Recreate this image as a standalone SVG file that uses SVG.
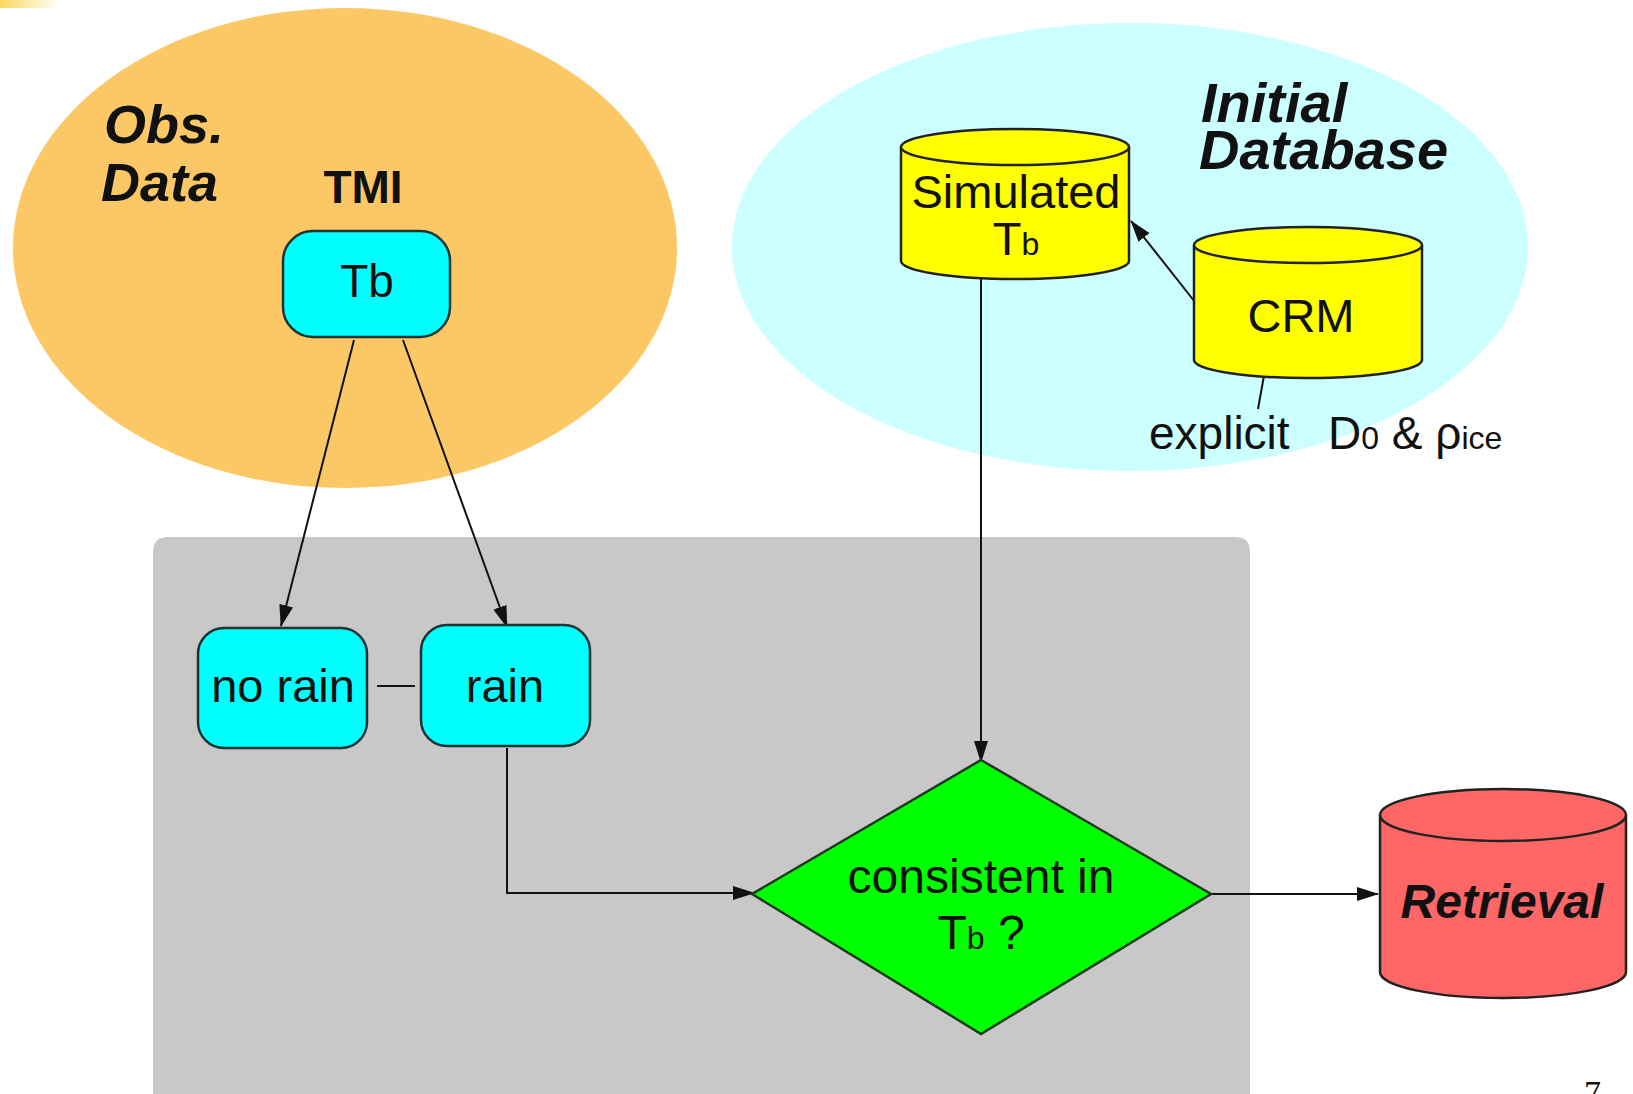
<svg xmlns="http://www.w3.org/2000/svg" width="1633" height="1094" viewBox="0 0 1633 1094">
<style>
.box{fill:#00FFFF;stroke:#1a3333;stroke-width:2.5}
.cyl{stroke:#222;stroke-width:2.5}
.lbl{font-family:"Liberation Sans",Arial,sans-serif;fill:#111}
.bi{font-family:"Liberation Sans",Arial,sans-serif;font-weight:bold;font-style:italic;fill:#111}
.conn{stroke:#111;stroke-width:2;fill:none}
</style>
<defs>
<marker id="ah" viewBox="0 0 22 14" refX="21" refY="7" markerWidth="22" markerHeight="14" markerUnits="userSpaceOnUse" orient="auto">
<path d="M0,0 L22,7 L0,14 Z" fill="#111"/>
</marker>
<linearGradient id="corner" x1="0" y1="0" x2="1" y2="0">
<stop offset="0" stop-color="#F8D860"/>
<stop offset="1" stop-color="#FFFFFF"/>
</linearGradient>
</defs>
<rect width="1633" height="1094" fill="#FFFFFF"/>
<rect x="0" y="0" width="60" height="8" fill="url(#corner)"/>

<g id="obs-region">
<ellipse cx="345" cy="248" rx="332" ry="240" fill="#FCC865"/>
<text class="bi" x="104" y="143" font-size="54">Obs.</text>
<text class="bi" x="101" y="201" font-size="54">Data</text>
<text class="lbl" x="363" y="203" font-size="46" font-weight="bold" text-anchor="middle">TMI</text>
</g>

<g id="db-region">
<ellipse cx="1130" cy="247" rx="398" ry="224" fill="#CCFFFF"/>
<text class="bi" x="1201" y="122" font-size="56">Initial</text>
<text class="bi" x="1199" y="169" font-size="56">Database</text>
</g>

<g id="process-region">
<path d="M153,1094 L153,552 Q153,537 168,537 L1235,537 Q1250,537 1250,552 L1250,1094 Z" fill="#C8C8C8"/>
</g>

<g id="connectors">
<line class="conn" x1="354" y1="340" x2="281" y2="626" marker-end="url(#ah)"/>
<line class="conn" x1="403" y1="340" x2="507" y2="627" marker-end="url(#ah)"/>
<line class="conn" x1="377" y1="686" x2="415" y2="686"/>
<polyline class="conn" points="507,748 507,893 754,893" marker-end="url(#ah)"/>
<line class="conn" x1="981" y1="279" x2="981" y2="762" marker-end="url(#ah)"/>
<line class="conn" x1="1195" y1="302" x2="1131" y2="221" marker-end="url(#ah)"/>
<line class="conn" x1="1211" y1="894" x2="1378" y2="894" marker-end="url(#ah)"/>
<line class="conn" x1="1267" y1="359" x2="1258" y2="409"/>
</g>

<g id="node-tb">
<rect class="box" x="283" y="231" width="167" height="106" rx="30"/>
<text class="lbl" x="367" y="297" font-size="46" text-anchor="middle">Tb</text>
</g>

<g id="node-norain">
<rect class="box" x="198" y="628" width="169" height="120" rx="26"/>
<text class="lbl" x="283" y="702" font-size="47" text-anchor="middle">no rain</text>
</g>

<g id="node-rain">
<rect class="box" x="421" y="625" width="169" height="121" rx="26"/>
<text class="lbl" x="505" y="702" font-size="47" text-anchor="middle">rain</text>
</g>

<g id="node-simulated">
<path class="cyl" fill="#FFFF00" d="M901,147 L901,261 A114,18 0 0 0 1129,261 L1129,147"/>
<ellipse class="cyl" fill="#FFFF00" cx="1015" cy="147" rx="114" ry="18"/>
<text class="lbl" x="1016" y="208" font-size="47" text-anchor="middle">Simulated</text>
<text class="lbl" x="1016" y="255" font-size="47" text-anchor="middle">T<tspan font-size="32">b</tspan></text>
</g>

<g id="node-crm">
<path class="cyl" fill="#FFFF00" d="M1194,245 L1194,360 A114,18 0 0 0 1422,360 L1422,245"/>
<ellipse class="cyl" fill="#FFFF00" cx="1308" cy="245" rx="114" ry="18"/>
<text class="lbl" x="1301" y="332" font-size="47" text-anchor="middle">CRM</text>
</g>

<g id="label-explicit">
<text class="lbl" x="1149" y="449" font-size="46">explicit</text>
<text class="lbl" x="1328" y="449" font-size="46">D<tspan font-size="32">0</tspan> &amp; ρ<tspan font-size="32">ice</tspan></text>
</g>

<g id="node-decision">
<polygon points="981,760 1211,894 981,1034 752,894" fill="#00FF00" stroke="#1a3a1a" stroke-width="2.5"/>
<text class="lbl" x="981" y="893" font-size="48" text-anchor="middle">consistent in</text>
<text class="lbl" x="981" y="949" font-size="48" text-anchor="middle">T<tspan font-size="32">b</tspan> ?</text>
</g>

<g id="node-retrieval">
<path class="cyl" fill="#FF6666" d="M1380,815 L1380,972 A123,26 0 0 0 1626,972 L1626,815"/>
<ellipse class="cyl" fill="#FF6666" cx="1503" cy="815" rx="123" ry="26"/>
<text class="bi" x="1502" y="918" font-size="48" text-anchor="middle">Retrieval</text>
</g>

<text x="1584" y="1104" font-family="Liberation Serif, serif" font-size="34" fill="#111">7</text>
</svg>
